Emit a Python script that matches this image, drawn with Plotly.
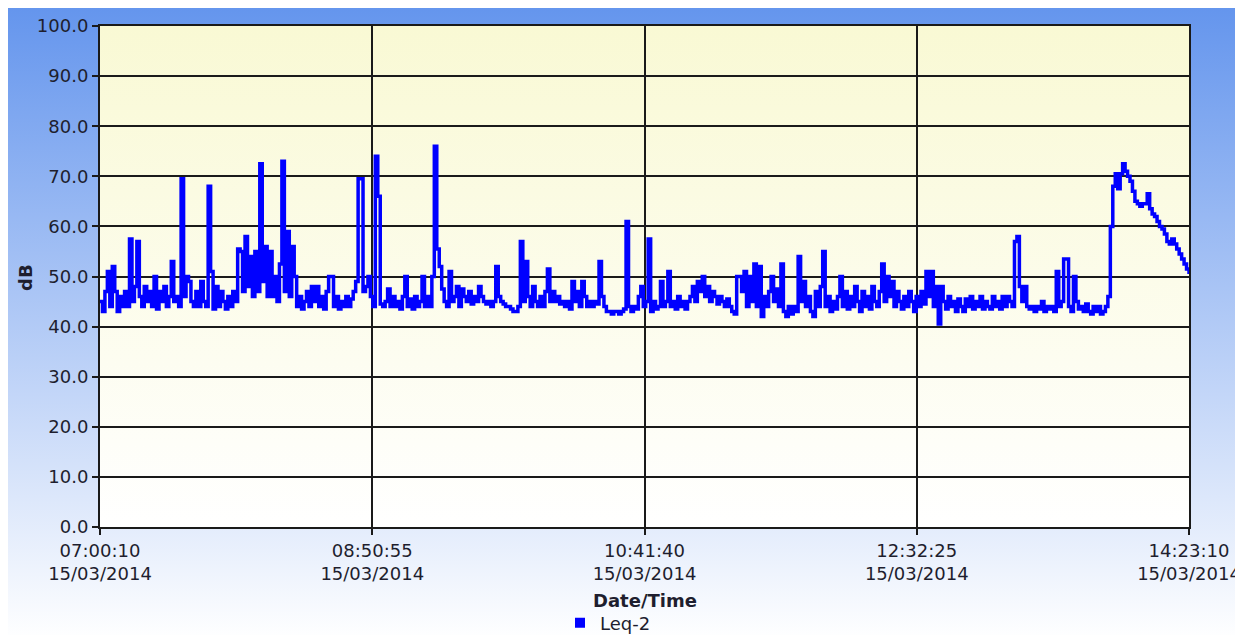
import base64
import pandas as pd
import plotly.graph_objects as go

# ---- data (one value per minute, 07:00:10 -> 14:23:10) ----
start_time = "2014-03-15 07:00:10"
leq2 = [
    45, 43, 47, 51, 44, 52, 47, 43, 46, 44,          # 0
    47, 44, 57.5, 45, 48, 57, 46, 44, 48, 45,        # 10
    47, 44, 50, 43.5, 47, 45, 48, 44, 46, 53,        # 20
    45, 46, 44, 69.5, 46, 50, 49, 45, 44, 47,        # 30
    44, 49, 45, 44, 68, 51, 43.5, 48, 44, 47,        # 40
    45, 43.5, 46, 44, 47, 45, 55.5, 55, 47, 58,      # 50
    48, 54, 46, 55, 47, 72.5, 49, 56, 46, 55,        # 60
    46, 50, 45, 52.5, 73, 47, 59, 46, 56, 50,        # 70
    44, 46, 43.5, 45, 47, 44, 48, 45, 48, 44,        # 80
    46, 43.5, 47, 50, 50, 44, 46, 43.5, 45, 44,      # 90
    46, 44, 45.5, 47, 49, 69.5, 69.5, 47, 48, 50,    # 100
    46, 44, 74, 66, 44.5, 44, 45, 47.5, 44, 46,      # 110
    44, 45, 43.5, 46, 50, 44, 45.5, 43.5, 46, 44,    # 120
    45, 50, 44, 46, 44, 50, 76, 55.5, 52, 47.5,      # 130
    45, 44, 51, 45, 46, 48, 44, 47.5, 46, 45,        # 140
    47, 44.5, 46, 45, 48, 46, 45, 44.5, 45, 44,      # 150
    45, 52, 46, 45, 44.5, 44, 44, 43.5, 43, 43,      # 160
    44, 57, 45, 53, 46, 44, 48, 45, 44, 46,          # 170
    44, 47, 51.5, 45, 47, 45, 46, 44.5, 45, 44,      # 180
    45, 43.5, 49, 45, 47, 44, 49, 46, 44, 45,        # 190
    44, 45, 44.5, 53, 46, 44, 43, 43, 42.5, 43,      # 200
    43, 42.5, 43, 43.5, 61, 44, 43, 44, 43.5, 46,    # 210
    48, 44, 45, 57.5, 43, 45, 43.5, 44, 49, 44,      # 220
    45, 51, 44, 45, 43.5, 46, 44, 45, 43.5, 45,      # 230
    46, 48, 45, 49, 47, 50, 46, 48, 45, 47,          # 240
    46, 44.5, 46, 45, 44, 45.5, 44, 43, 42.5, 50,    # 250
    50, 47, 51, 44, 50, 45, 52.5, 44, 52, 42,        # 260
    46, 44, 47, 50, 45, 47.5, 44, 52.5, 43, 42,      # 270
    44, 42.5, 44, 43, 54, 45, 49, 44, 46, 43,        # 280
    42, 47, 44, 48, 55, 44, 46, 43, 45, 43.5,        # 290
    46, 50, 44, 47, 43.5, 46, 44, 48, 45, 43,        # 300
    47, 44, 46, 43.5, 48, 45, 44, 47, 52.5, 45,      # 310
    50, 46, 49, 44, 47, 45, 43.5, 46, 44, 47,        # 320
    45, 43, 46, 44, 47, 44.5, 51, 46, 51, 44,        # 330
    48, 40.5, 48, 45, 43.5, 46, 44, 45, 43, 45.5,    # 340
    44, 43, 45.5, 44, 46, 43.5, 45, 44, 46, 43.5,    # 350
    45, 44, 43.5, 46, 44, 45, 43.5, 46, 44, 46,      # 360
    45, 44, 57, 58, 48, 45, 48, 44, 43.5, 44,        # 370
    43, 44, 43.5, 45, 43, 44, 43.5, 44, 43, 51,      # 380
    44, 45, 53.5, 53.5, 44, 43, 50, 45, 43.5, 44,    # 390
    43, 44.5, 43, 42.5, 44, 43, 44, 42.5, 43, 44,    # 400
    46, 60, 68, 70.5, 67.5, 70.5, 72.5, 71, 70, 69,  # 410
    67, 65, 64.5, 64, 64.5, 64.5, 66.5, 63.5, 62.5, 62,  # 420
    61, 60, 59.5, 58.5, 57, 56.5, 57.5, 56.5, 55.5, 54.5,  # 430
    53.5, 52.5, 51.5, 50.5,                          # 440
]
tick_times = ["2014-03-15 07:00:10", "2014-03-15 08:50:55", "2014-03-15 10:41:40",
              "2014-03-15 12:32:25", "2014-03-15 14:23:10"]
tick_labels = ["07:00:10<br>15/03/2014", "08:50:55<br>15/03/2014", "10:41:40<br>15/03/2014",
               "12:32:25<br>15/03/2014", "14:23:10<br>15/03/2014"]
series_name = "Leq-2"

times = pd.date_range(start_time, periods=len(leq2), freq="min")

# The page body has an 8px margin, so the figure is drawn at (8, 8) on screen.
OFF = 8
W, H = 1243 - OFF, 635 - OFF
L, R, T, B = 100 - OFF, 1189 - OFF, 26 - OFF, 527 - OFF   # plot area in figure px
pw, ph = R - L, B - T


def svg_grad(top, bottom):
    svg = ('<svg xmlns="http://www.w3.org/2000/svg" width="100" height="100" '
           'preserveAspectRatio="none"><defs><linearGradient id="g" x1="0" y1="0" x2="0" y2="1">'
           f'<stop offset="0" stop-color="{top}"/><stop offset="1" stop-color="{bottom}"/>'
           '</linearGradient></defs><rect width="100" height="100" fill="url(#g)"/></svg>')
    return "data:image/svg+xml;base64," + base64.b64encode(svg.encode()).decode()


def px_x(p):  # screen px -> paper x
    return (p - OFF - L) / pw


def px_y(p):  # screen px -> paper y
    return (B - (p - OFF)) / ph


font = "DejaVu Sans"
txt = "#1e1e2e"
fs = 18

fig = go.Figure()
fig.add_trace(go.Scatter(
    x=times, y=leq2, mode="lines", line=dict(color="#0000FF", width=3.5, shape="hv"),
    name=series_name, showlegend=False, hoverinfo="x+y"))
fig.add_trace(go.Scatter(
    x=[None], y=[None], mode="markers", name=series_name,
    marker=dict(symbol="square", color="#0000FF", size=10)))

fig.update_layout(
    width=W, height=H, autosize=False,
    margin=dict(l=L, r=W - R, t=T, b=H - B, pad=0, autoexpand=False),
    paper_bgcolor="white", plot_bgcolor="rgba(0,0,0,0)",
    font=dict(family=font, size=fs, color=txt),
    images=[
        dict(source=svg_grad("#6495ED", "#FFFFFF"), xref="paper", yref="paper",
             x=px_x(6), y=px_y(6), sizex=(1235 - 6) / pw, sizey=(640 - 6) / ph,
             xanchor="left", yanchor="top", sizing="stretch", layer="below"),
        dict(source=svg_grad("#F9F9D4", "#FFFFFF"), xref="paper", yref="paper",
             x=0, y=1, sizex=1, sizey=1, xanchor="left", yanchor="top",
             sizing="stretch", layer="below"),
    ],
    xaxis=dict(
        range=[times[0], times[-1]], tickvals=tick_times, ticktext=tick_labels,
        showgrid=True, gridcolor="#1a1a1a", gridwidth=1.5,
        showline=True, linecolor="#1a1a1a", linewidth=2, mirror=True,
        ticks="outside", ticklen=6, tickcolor="#1a1a1a", tickwidth=1.5,
        zeroline=False, automargin=False, tickfont=dict(size=fs, color=txt),
    ),
    yaxis=dict(
        range=[0, 100], dtick=10, tick0=0, tickformat=".1f",
        showgrid=True, gridcolor="#1a1a1a", gridwidth=1.5,
        showline=True, linecolor="#1a1a1a", linewidth=2, mirror=True,
        ticks="outside", ticklen=6, tickcolor="#1a1a1a", tickwidth=1.5,
        zeroline=False, automargin=False, tickfont=dict(size=fs, color=txt),
    ),
    legend=dict(orientation="h", xref="container", yref="container",
                x=(560 - OFF) / W, xanchor="left", y=1 - (623 - OFF) / H, yanchor="middle",
                bgcolor="rgba(0,0,0,0)", font=dict(size=fs, color=txt),
                itemwidth=30),
    annotations=[
        dict(text="<b>Date/Time</b>", xref="paper", yref="paper", x=px_x(645), y=px_y(600),
             xanchor="center", yanchor="middle", showarrow=False,
             font=dict(size=fs, color=txt)),
        dict(text="<b>dB</b>", xref="paper", yref="paper", x=px_x(25), y=px_y(278),
             xanchor="center", yanchor="middle", showarrow=False, textangle=-90,
             font=dict(size=fs, color=txt)),
    ],
    shapes=[
        dict(type="rect", xref="paper", yref="paper", x0=px_x(1236), x1=px_x(1260),
             y0=px_y(660), y1=px_y(0), fillcolor="white", line=dict(width=0), layer="above"),
    ],
)

fig.write_html("out.html")
